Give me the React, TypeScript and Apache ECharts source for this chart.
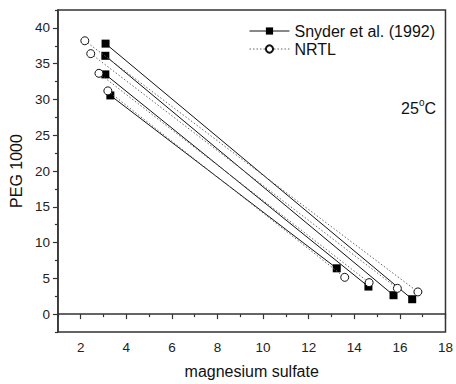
import React, { useEffect, useRef } from "react";
import * as echarts from "echarts";

const snyderTopX = [3.09, 3.08, 3.08, 3.3];
const snyderTopY = [37.8, 36.1, 33.5, 30.56];
const snyderBotX = [16.54, 15.72, 14.62, 13.23];
const snyderBotY = [2.08, 2.64, 3.85, 6.4];

const nrtlTopX = [2.18, 2.44, 2.8, 3.19];
const nrtlTopY = [38.2, 36.4, 33.65, 31.2];
const nrtlBotX = [16.79, 15.89, 14.65, 13.58];
const nrtlBotY = [3.1, 3.6, 4.4, 5.14];

const xMajor = [2, 4, 6, 8, 10, 12, 14, 16, 18];
const xMinor = [1, 3, 5, 7, 9, 11, 13, 15, 17];
const yMajor = [0, 5, 10, 15, 20, 25, 30, 35, 40];
const yMinor = [-2.5, 2.5, 7.5, 12.5, 17.5, 22.5, 27.5, 32.5, 37.5, 42.5];

const SNYDER = "Snyder et al. (1992)";
const NRTL = "NRTL";

export default function App() {
  const ref = useRef<HTMLDivElement>(null);
  useEffect(() => {
    document.body.style.margin = "0";
    const chart = echarts.init(ref.current!, null, { renderer: "svg" });
    const font = "Liberation Sans, Arial, sans-serif";
    const axisColor = "#333";
    const series: any[] = [];
    snyderTopX.forEach((x, i) => {
      series.push({
        name: SNYDER,
        type: "line",
        data: [
          [x, snyderTopY[i]],
          [snyderBotX[i], snyderBotY[i]],
        ],
        symbol: "rect",
        symbolSize: 8,
        itemStyle: { color: "#000", borderColor: "#000", borderWidth: 0 },
        lineStyle: { color: "#111", width: 1, type: "solid" },
        z: 3,
      });
    });
    nrtlTopX.forEach((x, i) => {
      series.push({
        name: NRTL,
        type: "line",
        data: [
          [x, nrtlTopY[i]],
          [nrtlBotX[i], nrtlBotY[i]],
        ],
        symbol: "circle",
        symbolSize: 8,
        showAllSymbol: true,
        itemStyle: { color: "#fff", borderColor: "#111", borderWidth: 1 },
        lineStyle: { color: "#666", width: 1, type: [1.5, 2] },
        z: 4,
      });
    });
    chart.setOption({
      animation: false,
      backgroundColor: "#fff",
      grid: {
        left: 50,
        right: 10,
        top: 10,
        bottom: 50,
        show: true,
        borderColor: axisColor,
        borderWidth: 1.5,
        backgroundColor: "transparent",
      },
      legend: {
        orient: "vertical",
        right: 16,
        top: 18,
        itemWidth: 40,
        itemHeight: 9,
        itemGap: 2,
        selectedMode: false,
        lineStyle: { width: 1 },
        textStyle: { fontFamily: font, fontSize: 16, color: "#111" },
        data: [SNYDER, NRTL],
      },
      xAxis: [
        {
          type: "value",
          min: 1,
          max: 18,
          name: "magnesium sulfate",
          nameLocation: "middle",
          nameGap: 31,
          nameTextStyle: { fontFamily: font, fontSize: 16, color: "#111" },
          splitLine: { show: false },
          axisLine: { show: true, lineStyle: { color: axisColor, width: 1.5 } },
          axisTick: {
            show: true,
            inside: false,
            length: 5,
            customValues: xMajor,
            lineStyle: { color: axisColor, width: 1.2 },
          },
          axisLabel: {
            customValues: xMajor,
            margin: 8,
            fontFamily: font,
            fontSize: 13.5,
            color: "#222",
          },
        },
        {
          type: "value",
          min: 1,
          max: 18,
          position: "bottom",
          splitLine: { show: false },
          axisLine: { show: false },
          axisTick: {
            show: true,
            length: 3,
            customValues: xMinor,
            lineStyle: { color: axisColor, width: 1.2 },
          },
          axisLabel: { show: false },
        },
      ],
      yAxis: [
        {
          type: "value",
          min: -2.5,
          max: 42.5,
          name: "PEG 1000",
          nameLocation: "middle",
          nameGap: 25,
          nameTextStyle: { fontFamily: font, fontSize: 16, color: "#111" },
          splitLine: { show: false },
          axisLine: { show: true, lineStyle: { color: axisColor, width: 1.5 } },
          axisTick: {
            show: true,
            length: 5,
            customValues: yMajor,
            lineStyle: { color: axisColor, width: 1.2 },
          },
          axisLabel: {
            customValues: yMajor,
            margin: 8,
            fontFamily: font,
            fontSize: 13.5,
            color: "#222",
          },
        },
        {
          type: "value",
          min: -2.5,
          max: 42.5,
          position: "left",
          splitLine: { show: false },
          axisLine: { show: false },
          axisTick: {
            show: true,
            length: 3,
            customValues: yMinor,
            lineStyle: { color: axisColor, width: 1.2 },
          },
          axisLabel: { show: false },
        },
      ],
      graphic: [
        {
          type: "text",
          right: 20,
          top: 97,
          style: {
            text: "{n|25}{s|o}{n|C}",
            rich: {
              n: { fontFamily: font, fontSize: 16, fill: "#111", verticalAlign: "bottom" },
              s: { fontFamily: font, fontSize: 10, fill: "#111", verticalAlign: "top", padding: [0, 0, 9, 0] },
            },
          },
        },
      ],
      series,
    });
    return () => chart.dispose();
  }, []);
  return (
    <div
      ref={ref}
      style={{ position: "absolute", left: 0, top: 0, width: 456, height: 384 }}
    />
  );
}
